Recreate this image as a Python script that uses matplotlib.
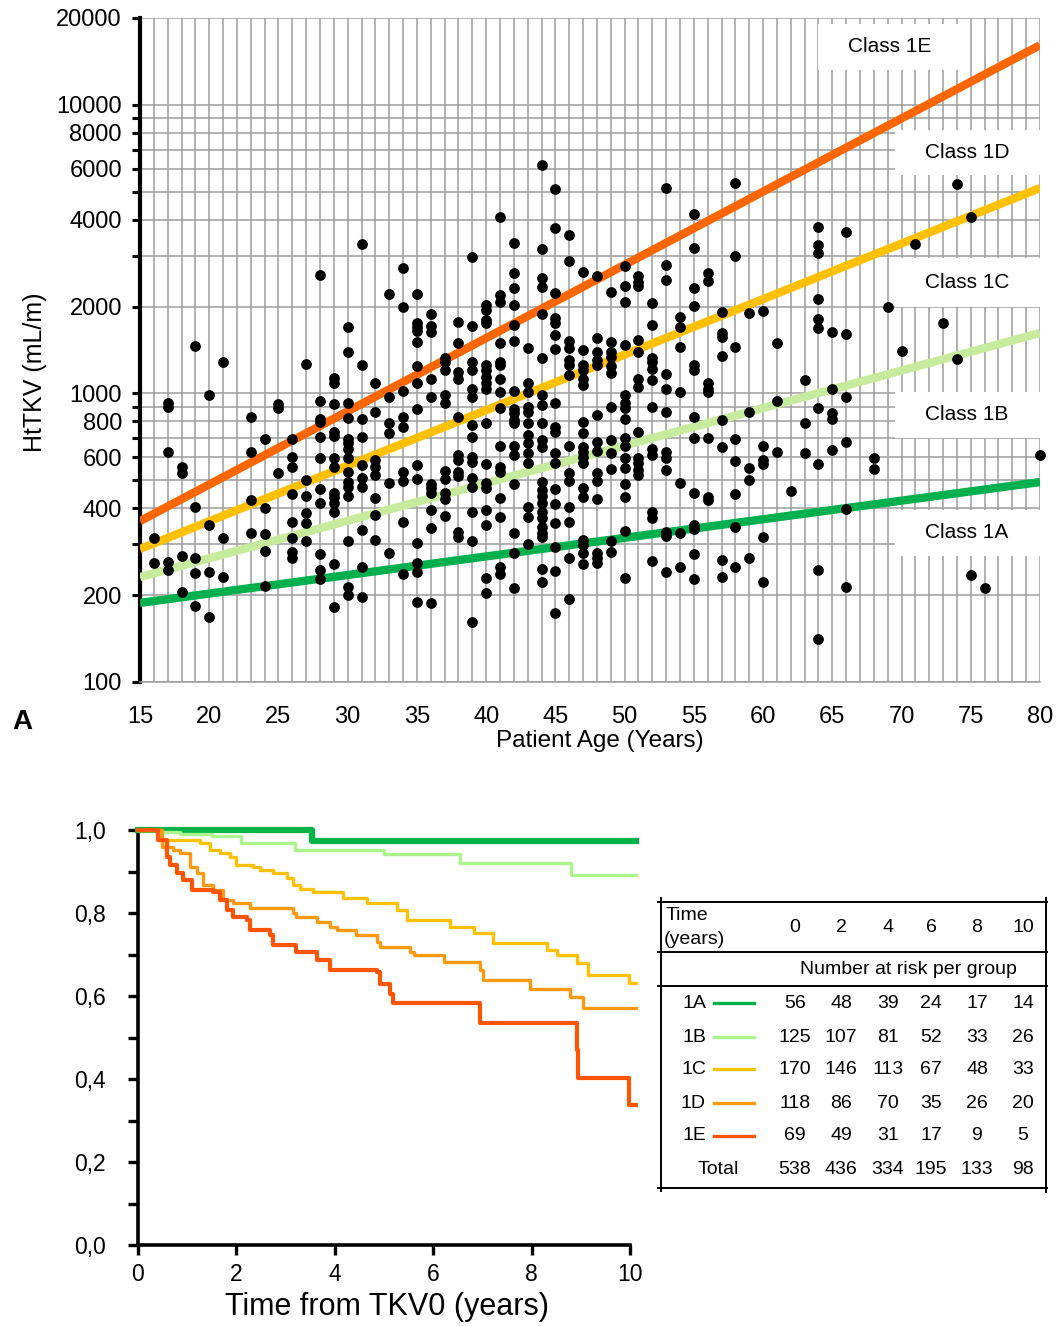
import matplotlib
matplotlib.use('Agg')
import matplotlib.pyplot as plt
from matplotlib.ticker import FixedLocator, FixedFormatter, NullFormatter
from matplotlib.patches import Rectangle
import numpy as np

plt.rcParams['font.family'] = ['Liberation Sans', 'DejaVu Sans']

# ---------------- data: panel A ----------------
htkv_by_age = {
    16: [315, 258],
    17: [930, 900, 627, 260, 245],
    18: [556, 530, 273, 205],
    19: [1460, 404, 270, 238, 183],
    20: [990, 350, 240, 168],
    21: [1280, 315, 231],
    23: [830, 627, 427, 328],
    24: [695, 400, 326, 284, 215],
    25: [920, 890, 530],
    26: [695, 602, 556, 448, 358, 315, 282, 270],
    27: [1260, 500, 440, 385, 355, 308],
    28: [2570, 940, 815, 795, 705, 597, 466, 417, 278, 244, 227],
    29: [1130, 1090, 920, 733, 710, 597, 556, 452, 438, 417, 388, 256, 182],
    30: [1700, 1390, 930, 820, 695, 672, 640, 597, 534, 494, 473, 440, 308, 213, 200],
    31: [3295, 1255, 815, 705, 565, 510, 473, 336, 250, 197],
    32: [1090, 863, 587, 556, 522, 434, 379, 310],
    33: [2210, 975, 790, 730, 490, 280],
    34: [2720, 1990, 1020, 830, 765, 534, 498, 358, 237],
    35: [2210, 1760, 1700, 1650, 1510, 1240, 1090, 880, 565, 505, 303, 258, 240, 190],
    36: [1880, 1710, 1630, 1125, 975, 485, 470, 452, 394, 342, 188],
    37: [1330, 1280, 1210, 990, 925, 538, 505, 452, 431, 376],
    38: [1770, 1490, 1190, 1125, 830, 612, 587, 534, 518, 330, 318],
    39: [2970, 1710, 1280, 1210, 1040, 975, 777, 705, 602, 580, 510, 473, 388, 308, 162],
    40: [2020, 1950, 1800, 1750, 1255, 1210, 1140, 1090, 1040, 790, 570, 490, 470, 394, 350, 229, 203],
    41: [4090, 2200, 2080, 1500, 1290, 1250, 1120, 1010, 890, 660, 556, 534, 434, 373, 250, 237],
    42: [3320, 2620, 2320, 2020, 1730, 1520, 1020, 880, 855, 810, 790, 660, 612, 485, 328, 280, 212],
    43: [1440, 1090, 1010, 900, 863, 790, 717, 672, 622, 575, 404, 373, 301],
    44: [6190, 3160, 2510, 2340, 1880, 1330, 990, 910, 790, 690, 652, 494, 463, 440, 417, 388, 370,
         345, 328, 318, 246, 222],
    45: [5110, 3740, 2220, 1830, 1760, 1590, 1430, 930, 765, 733, 622, 575, 466, 414, 355, 294, 242, 173],
    46: [3540, 2870, 1520, 1440, 1310, 1255, 1160, 660, 530, 498, 404, 358, 270, 194],
    47: [2630, 1410, 1255, 1210, 1120, 1070, 795, 730, 652, 627, 602, 575, 470, 438, 310, 298, 280, 256],
    48: [2550, 1560, 1390, 1310, 1255, 840, 680, 632, 530, 498, 431, 280, 270, 258],
    49: [2250, 1510, 1390, 1340, 1240, 1180, 900, 690, 622, 547, 308, 282],
    50: [2760, 2360, 2080, 1470, 990, 930, 890, 815, 700, 660, 597, 552, 485, 438, 333, 229],
    51: [2550, 2440, 2360, 1530, 1390, 1120, 1050, 733, 597, 575, 545, 522],
    52: [2060, 1730, 1330, 1280, 1220, 1110, 900, 640, 612, 388, 370, 263],
    53: [5150, 2780, 2470, 1170, 1035, 860, 627, 597, 545, 330, 320, 240],
    54: [1840, 1700, 1450, 1010, 490, 328, 250],
    55: [4190, 3190, 2320, 2010, 1255, 1210, 830, 700, 452, 350, 338, 278, 227],
    56: [2620, 2450, 1090, 1040, 1010, 700, 438, 427],
    57: [1910, 1620, 1570, 1350, 810, 652, 265, 231],
    58: [5360, 2990, 1450, 695, 585, 448, 345, 250],
    59: [1900, 860, 552, 500, 270],
    60: [1930, 660, 587, 570, 318, 222],
    61: [1490, 940, 627],
    62: [460],
    63: [1110, 790, 622],
    64: [3780, 3280, 3060, 2130, 1810, 1680, 890, 570, 244, 141],
    65: [1630, 1035, 855, 815, 636],
    66: [3630, 1610, 975, 680, 398, 213],
    68: [597, 547],
    69: [1990],
    70: [1400],
    71: [3290],
    73: [1760],
    74: [5320, 1320],
    75: [4090, 235],
    76: [212],
    80: [612],
}
ages = [a for a, vs in htkv_by_age.items() for _ in vs]
vals = [v for vs in htkv_by_age.values() for v in vs]

line_ages = [15, 80]
class_lines = {           # boundary lines (value at age 15, value at age 80)
    '1A': [188, 493],
    '1B': [231, 1620],
    '1C': [289, 5150],
    '1D': [361, 16100],
}
class_line_colors = {'1A': '#00b04f', '1B': '#c6eb9c', '1C': '#ffc000', '1D': '#ff6600'}
class_names = ['Class 1E', 'Class 1D', 'Class 1C', 'Class 1B', 'Class 1A']

y_major = [100, 200, 400, 600, 800, 1000, 2000, 4000, 6000, 8000, 10000, 20000]
y_minor = [300, 500, 700, 900, 3000, 5000, 7000, 9000]
x_major = list(range(15, 81, 5))

# ---------------- data: panel B ----------------
km = {
    '1A': ([0, 3.53, 10.12], [1.0, 0.974, 0.974]),
    '1B': ([0, 0.4, 0.85, 1.5, 2.1, 3.2, 5.0, 6.55, 8.8, 10.12],
           [1.0, 0.995, 0.99, 0.985, 0.968, 0.953, 0.941, 0.920, 0.892, 0.892]),
    '1C': ([0, 0.45, 1.26, 1.46, 1.67, 1.87, 2.0, 2.34, 2.48, 2.75, 3.02, 3.16, 3.29, 3.56, 4.17,
            4.65, 5.26, 5.46, 6.34, 6.82, 7.22, 8.31, 8.51, 8.92, 9.15, 9.97, 10.12],
           [1.0, 0.976, 0.968, 0.952, 0.944, 0.936, 0.916, 0.912, 0.904, 0.896, 0.884, 0.867, 0.859,
            0.851, 0.835, 0.823, 0.807, 0.783, 0.767, 0.751, 0.727, 0.711, 0.699, 0.679, 0.651,
            0.631, 0.631]),
    '1D': ([0, 0.48, 0.72, 0.85, 1.06, 1.19, 1.33, 1.53, 1.73, 1.94, 2.28, 3.16, 3.22, 3.63, 3.9,
            4.04, 4.44, 4.85, 4.92, 5.53, 5.6, 6.21, 6.95, 7.02, 7.97, 8.78, 9.05, 10.12],
           [1.0, 0.96, 0.952, 0.944, 0.912, 0.896, 0.867, 0.855, 0.831, 0.823, 0.811, 0.799, 0.791,
            0.779, 0.767, 0.759, 0.747, 0.731, 0.718, 0.706, 0.699, 0.683, 0.663, 0.639, 0.618,
            0.598, 0.571, 0.571]),
    '1E': ([0, 0.41, 0.58, 0.65, 0.79, 0.92, 1.09, 1.53, 1.67, 1.80, 1.94, 2.21, 2.28, 2.68, 2.75,
            3.22, 3.63, 3.90, 4.85, 4.92, 5.12, 5.19, 6.95, 8.92, 8.95, 9.97, 10.12],
           [1.0, 0.976, 0.936, 0.916, 0.896, 0.879, 0.855, 0.851, 0.831, 0.807, 0.791, 0.783, 0.759,
            0.747, 0.723, 0.707, 0.687, 0.663, 0.659, 0.630, 0.606, 0.582, 0.534, 0.470, 0.402,
            0.337, 0.337]),
}
km_colors = {'1A': '#00b347', '1B': '#aaf58e', '1C': '#ffc000', '1D': '#ff9a10', '1E': '#ff5500'}
km_widths = {'1A': 4.5, '1B': 2.4, '1C': 2.4, '1D': 2.4, '1E': 3.0}

x_ticks_km = [0, 2, 4, 6, 8, 10]
y_ticks_km = [0.0, 0.2, 0.4, 0.6, 0.8, 1.0]
y_ticklabels_km = ['0,0', '0,2', '0,4', '0,6', '0,8', '1,0']
y_minor_km = [0.1, 0.3, 0.5, 0.7, 0.9]

table_times = ['0', '2', '4', '6', '8', '10']
table_groups = ['1A', '1B', '1C', '1D', '1E']
at_risk = {
    '1A': [56, 48, 39, 24, 17, 14],
    '1B': [125, 107, 81, 52, 33, 26],
    '1C': [170, 146, 113, 67, 48, 33],
    '1D': [118, 86, 70, 35, 26, 20],
    '1E': [69, 49, 31, 17, 9, 5],
}
at_risk_total = [538, 436, 334, 195, 133, 98]

# ---------------- figure ----------------
W, H = 1057, 1326
fig = plt.figure(figsize=(W / 100, H / 100), dpi=100)

def fx(px):
    return px / W

def fy(py):
    return 1 - py / H

# ---- panel A ----
ax = fig.add_axes([fx(140), fy(682), 900 / W, 664 / H])
ax.set_yscale('log')
ax.set_xlim(15, 80)
ax.set_ylim(100, 20000)
ax.set_axisbelow(True)

ax.yaxis.set_major_locator(FixedLocator(y_major))
ax.yaxis.set_major_formatter(FixedFormatter([str(v) for v in y_major]))
ax.yaxis.set_minor_locator(FixedLocator(y_minor))
ax.yaxis.set_minor_formatter(NullFormatter())
ax.set_xticks(x_major)
ax.set_xticks(range(15, 81), minor=True)

ax.grid(which='both', axis='both', color='#9c9c9c', lw=1.1)
ax.tick_params(axis='y', which='both', direction='out', length=6, width=2.2,
               labelsize=17, pad=7)
ax.tick_params(axis='x', which='both', length=0, labelsize=17, pad=17)
for s in ['top', 'right']:
    ax.spines[s].set_visible(False)
ax.spines['bottom'].set_color('#9c9c9c')
ax.spines['bottom'].set_linewidth(1.1)
ax.spines['left'].set_linewidth(3)

# white label boxes
box_px = [(818, 24, 965, 70), (895, 130, 1040, 175), (895, 258, 1040, 307),
          (895, 392, 1040, 438), (895, 510, 1040, 556)]
text_px = [(890, 47), (967, 152), (967, 283), (967, 415), (967, 533)]

def ax_frac(px, py):
    return (px - 140) / 900, (682 - py) / 664

for name, (x0, y0, x1, y1), (tx, ty) in zip(class_names, box_px, text_px):
    ax0, ay1 = ax_frac(x0, y0)
    ax1_, ay0 = ax_frac(x1, y1)
    ax.add_patch(Rectangle((ax0, ay0), ax1_ - ax0, ay1 - ay0, transform=ax.transAxes,
                           facecolor='white', edgecolor='none', zorder=1.5, clip_on=False))
    tfx, tfy = ax_frac(tx, ty)
    ax.text(tfx, tfy, name, transform=ax.transAxes, ha='center', va='center',
            fontsize=15, zorder=5)

for key, v in class_lines.items():
    ax.plot(line_ages, v, color=class_line_colors[key], lw=6, zorder=3,
            solid_capstyle='butt')

ax.scatter(ages, vals, s=60, c='black', linewidths=0, zorder=4, clip_on=False)

fig.text(fx(35), fy(372), 'HtTKV (mL/m)', rotation=90, ha='center', va='center', fontsize=18)
fig.text(fx(600), fy(741), 'Patient Age (Years)', ha='center', va='center', fontsize=17.5)
fig.text(fx(22), fy(722), 'A', ha='center', va='center', fontsize=20, fontweight='bold')

# ---- panel B ----
ax2 = fig.add_axes([fx(138), fy(1245), (630 - 138) / W, (1245 - 830) / H])
ax2.set_xlim(0, 10)
ax2.set_ylim(0, 1.0)
for s in ['top', 'right']:
    ax2.spines[s].set_visible(False)
for s in ['left', 'bottom']:
    ax2.spines[s].set_linewidth(2.6)
ax2.set_xticks(x_ticks_km)
ax2.set_xticklabels([str(t) for t in x_ticks_km])
ax2.set_yticks(y_ticks_km)
ax2.set_yticklabels(y_ticklabels_km)
ax2.set_yticks(y_minor_km, minor=True)
ax2.tick_params(axis='both', which='both', direction='out', length=7, width=2.4, labelsize=16.5)
ax2.tick_params(axis='y', pad=16)
ax2.tick_params(axis='x', pad=6)

for key in ['1A', '1B', '1C', '1D', '1E']:
    t, sv = km[key]
    ax2.plot(t, sv, drawstyle='steps-post', color=km_colors[key], lw=km_widths[key],
             clip_on=False, zorder=3)

fig.text(fx(387), fy(1307), 'Time from TKV0 (years)', ha='center', va='center', fontsize=22)

# ---- at-risk table (overlay in pixel coordinates) ----
ov = fig.add_axes([0, 0, 1, 1])
ov.set_xlim(0, W)
ov.set_ylim(H, 0)
ov.axis('off')
ov.patch.set_alpha(0)

lk = dict(color='black', lw=1.4)
for yy in [902, 952, 986, 1188]:
    ov.plot([658, 1047], [yy, yy], **lk)
ov.plot([661, 661], [898, 1191], **lk)
ov.plot([1046, 1046], [898, 1192], **lk)

col_x = [795, 841, 888, 931, 977, 1023]
fs_t = 14
ov.text(666, 915, 'Time', ha='left', va='center', fontsize=fs_t)
ov.text(664, 939, '(years)', ha='left', va='center', fontsize=fs_t)
for cx, tt in zip(col_x, table_times):
    ov.text(cx, 927, tt, ha='center', va='center', fontsize=fs_t)
ov.text(908, 969, 'Number at risk per group', ha='center', va='center', fontsize=fs_t)

row_y = [1003, 1037, 1069, 1103, 1136]
for g, ry in zip(table_groups, row_y):
    ov.text(706, ry, g, ha='right', va='center', fontsize=fs_t)
    ov.plot([714, 754], [ry, ry], color=km_colors[g], lw=2.4)
    for cx, n in zip(col_x, at_risk[g]):
        ov.text(cx, ry, str(n), ha='center', va='center', fontsize=fs_t)
ov.text(718, 1170, 'Total', ha='center', va='center', fontsize=fs_t)
for cx, n in zip(col_x, at_risk_total):
    ov.text(cx, 1170, str(n), ha='center', va='center', fontsize=fs_t)

fig.savefig('out.png', dpi=100)
